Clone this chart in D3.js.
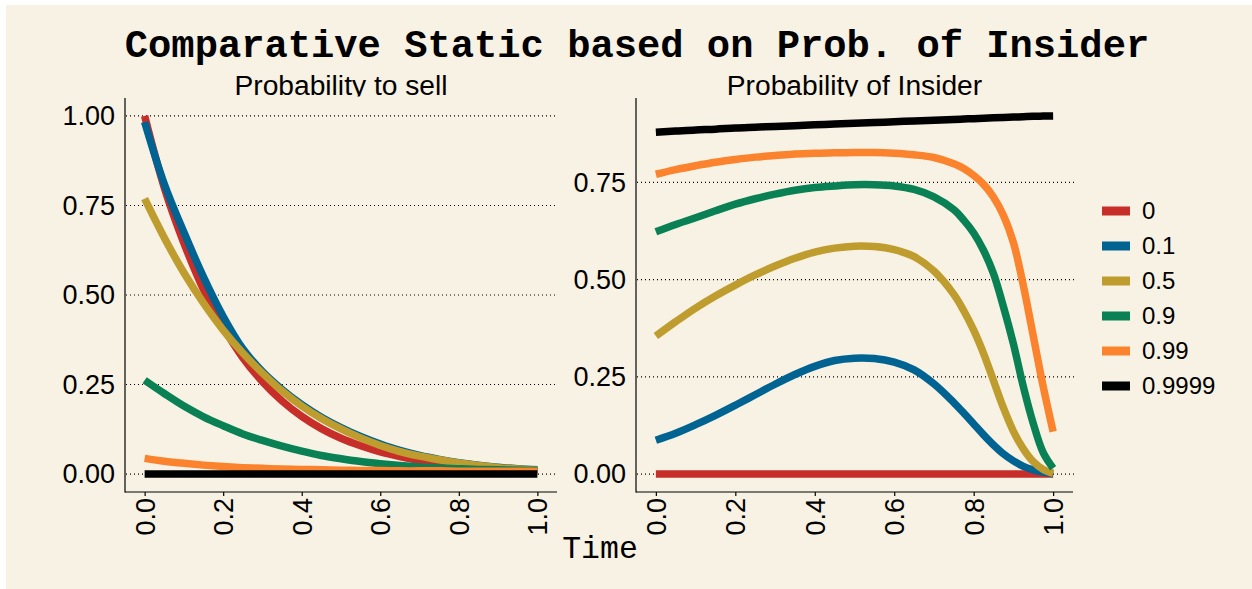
<!DOCTYPE html>
<html>
<head>
<meta charset="utf-8">
<script src="https://cdn.jsdelivr.net/npm/d3@7"></script>
<style>
  html, body { margin: 0; padding: 0; background: #ffffff; }
  svg { display: block; }
</style>
</head>
<body>
<svg id="chart" width="1252" height="589"></svg>
<script>
// ---------------- DATA ----------------
const seriesNames = ["0", "0.1", "0.5", "0.9", "0.99", "0.9999"];
const seriesColors = ["#c72e29", "#016392", "#be9c2e", "#098154", "#fb832d", "#000000"];

// Left panel: Probability to sell
const timeLeft = [0, 0.05, 0.1, 0.15, 0.2, 0.25, 0.3, 0.35, 0.4, 0.45, 0.5, 0.55, 0.6, 0.65, 0.7, 0.75, 0.8, 0.85, 0.9, 0.95, 1.0];
const sell_0      = [1.0, 0.80, 0.645, 0.515, 0.41, 0.325, 0.258, 0.204, 0.161, 0.127, 0.100, 0.079, 0.062, 0.049, 0.038, 0.030, 0.024, 0.019, 0.015, 0.012, 0.010];
const sell_01     = [0.983, 0.81, 0.675, 0.55, 0.44, 0.35, 0.286, 0.236, 0.194, 0.159, 0.130, 0.105, 0.084, 0.066, 0.052, 0.041, 0.032, 0.025, 0.019, 0.015, 0.012];
const sell_05     = [0.769, 0.66, 0.562, 0.477, 0.402, 0.338, 0.282, 0.232, 0.190, 0.155, 0.126, 0.101, 0.080, 0.063, 0.050, 0.040, 0.031, 0.024, 0.018, 0.014, 0.011];
const sell_09     = [0.262, 0.225, 0.19, 0.16, 0.135, 0.112, 0.094, 0.078, 0.064, 0.052, 0.043, 0.035, 0.029, 0.024, 0.020, 0.017, 0.015, 0.013, 0.012, 0.011, 0.010];
const sell_099    = [0.044, 0.036, 0.030, 0.025, 0.021, 0.018, 0.016, 0.014, 0.013, 0.012, 0.011, 0.010, 0.010, 0.009, 0.009, 0.009, 0.008, 0.008, 0.008, 0.008, 0.008];
const sell_09999  = [0, 0, 0, 0, 0, 0, 0, 0, 0, 0, 0, 0, 0, 0, 0, 0, 0, 0, 0, 0, 0];

// Right panel: Probability of Insider
const timeRight = [0, 0.05, 0.1, 0.15, 0.2, 0.25, 0.3, 0.35, 0.4, 0.45, 0.5, 0.55, 0.6, 0.65, 0.7, 0.75, 0.775, 0.8, 0.825, 0.85, 0.875, 0.9, 0.925, 0.95, 0.975, 1.0];
const ins_0     = [0, 0, 0, 0, 0, 0, 0, 0, 0, 0, 0, 0, 0, 0, 0, 0, 0, 0, 0, 0, 0, 0, 0, 0, 0, 0];
const ins_01    = [0.087, 0.105, 0.127, 0.151, 0.177, 0.204, 0.231, 0.256, 0.277, 0.292, 0.298, 0.297, 0.288, 0.268, 0.232, 0.184, 0.157, 0.129, 0.101, 0.075, 0.052, 0.034, 0.020, 0.011, 0.005, 0.001];
const ins_05    = [0.355, 0.392, 0.427, 0.458, 0.486, 0.512, 0.535, 0.555, 0.571, 0.581, 0.586, 0.585, 0.577, 0.559, 0.522, 0.462, 0.420, 0.370, 0.310, 0.240, 0.170, 0.110, 0.065, 0.032, 0.012, 0.002];
const ins_09    = [0.623, 0.642, 0.659, 0.677, 0.694, 0.708, 0.720, 0.730, 0.737, 0.741, 0.744, 0.744, 0.741, 0.732, 0.713, 0.680, 0.653, 0.620, 0.575, 0.515, 0.430, 0.335, 0.225, 0.130, 0.055, 0.015];
const ins_099   = [0.771, 0.783, 0.793, 0.802, 0.809, 0.815, 0.819, 0.823, 0.825, 0.826, 0.827, 0.827, 0.825, 0.821, 0.814, 0.798, 0.786, 0.768, 0.745, 0.712, 0.665, 0.595, 0.485, 0.355, 0.225, 0.109];
const ins_09999 = [0.879, 0.882, 0.885, 0.887, 0.890, 0.892, 0.894, 0.896, 0.898, 0.900, 0.902, 0.904, 0.906, 0.908, 0.910, 0.912, 0.913, 0.914, 0.915, 0.916, 0.917, 0.918, 0.919, 0.920, 0.9205, 0.921];

const xTicks = [0, 0.2, 0.4, 0.6, 0.8, 1.0];
const yTicksLeft = [0, 0.25, 0.5, 0.75, 1.0];
const yTicksRight = [0, 0.25, 0.5, 0.75];

const titleText = "Comparative Static based on Prob. of Insider";
const leftTitle = "Probability to sell";
const rightTitle = "Probability of Insider";
const xLabel = "Time";

// ---------------- DRAW ----------------
const svg = d3.select("#chart");
const SANS = "'Liberation Sans', Arial, Helvetica, sans-serif";
const MONO = "'Liberation Mono', 'Courier New', monospace";

svg.append("rect").attr("x", 6).attr("y", 5).attr("width", 1246).attr("height", 584).attr("fill", "#f8f2e4");

// main title
svg.append("text").attr("x", 637).attr("y", 57).attr("text-anchor", "middle")
  .attr("font-family", MONO).attr("font-weight", "bold").attr("font-size", 38.8)
  .attr("fill", "#000").text(titleText);

function expand(ext, f) {
  const r = ext[1] - ext[0];
  return [ext[0] - r * f, ext[1] + r * f];
}

const panelTop = 98, panelBottom = 492;
const defs = svg.append("defs");
defs.append("clipPath").attr("id", "subclip").append("rect")
  .attr("x", 0).attr("y", 0).attr("width", 1252).attr("height", 96.5);

function drawPanel(opts) {
  const { x0, x1, time, series, yTicks, title } = opts;
  const allVals = series.flat();
  const x = d3.scaleLinear().domain(expand(d3.extent(time), 0.05)).range([x0, x1]);
  const y = d3.scaleLinear().domain(expand(d3.extent(allVals), 0.05)).range([panelBottom, panelTop]);
  const g = svg.append("g");

  // subtitle
  g.append("text").attr("x", (x0 + x1) / 2).attr("y", 95).attr("text-anchor", "middle")
    .attr("clip-path", "url(#subclip)")
    .attr("font-family", SANS).attr("font-size", 28.2).attr("fill", "#000").text(title);

  // gridlines
  g.selectAll("line.grid").data(yTicks).join("line")
    .attr("x1", x0 + 1).attr("x2", x1 + 1)
    .attr("y1", d => y(d)).attr("y2", d => y(d))
    .attr("stroke", "#000").attr("stroke-width", 1.1).attr("stroke-dasharray", "1,3");

  // y axis
  const yAxis = d3.axisLeft(y).tickValues(yTicks).tickFormat(d3.format(".2f")).tickSize(0).tickPadding(10);
  const ya = g.append("g").attr("transform", `translate(${x0},0)`).call(yAxis);
  ya.select(".domain").remove();
  ya.selectAll("text").attr("font-family", SANS).attr("font-size", 27).attr("fill", "#000");
  g.append("line").attr("x1", x0).attr("x2", x0).attr("y1", panelTop).attr("y2", panelBottom + 0.5)
    .attr("stroke", "#000").attr("stroke-width", 1.2);

  // x axis
  const xAxis = d3.axisBottom(x).tickValues(xTicks).tickFormat(d3.format(".1f")).tickSize(4).tickPadding(0);
  const xa = g.append("g").attr("transform", `translate(0,${panelBottom})`).call(xAxis);
  xa.select(".domain").remove();
  xa.selectAll(".tick line").attr("stroke", "#000").attr("stroke-width", 1.2);
  xa.selectAll("text")
    .attr("font-family", SANS).attr("font-size", 27).attr("fill", "#000")
    .attr("text-anchor", "end").attr("dy", "0.35em").attr("y", 0).attr("x", 0)
    .attr("transform", "translate(0,6) rotate(-90)");
  g.append("line").attr("x1", x0).attr("x2", x1).attr("y1", panelBottom).attr("y2", panelBottom)
    .attr("stroke", "#000").attr("stroke-width", 1.2);

  // lines
  const line = d3.line().x((d, i) => x(time[i])).y(d => y(d)).curve(d3.curveCatmullRom.alpha(0.5));
  series.forEach((s, k) => {
    g.append("path").attr("d", line(s)).attr("fill", "none")
      .attr("stroke", seriesColors[k]).attr("stroke-width", 7.5).attr("stroke-linecap", "butt")
      .attr("stroke-linejoin", "round");
  });
}

drawPanel({ x0: 125, x1: 557, time: timeLeft, title: leftTitle, yTicks: yTicksLeft,
  series: [sell_0, sell_01, sell_05, sell_09, sell_099, sell_09999] });
drawPanel({ x0: 636, x1: 1073, time: timeRight, title: rightTitle, yTicks: yTicksRight,
  series: [ins_0, ins_01, ins_05, ins_09, ins_099, ins_09999] });

// x label
svg.append("text").attr("x", 600).attr("y", 558).attr("text-anchor", "middle")
  .attr("font-family", MONO).attr("font-size", 31.5).attr("fill", "#000").text(xLabel);

// legend
const legend = svg.append("g");
seriesNames.forEach((name, i) => {
  const cy = 211 + i * 35;
  legend.append("rect").attr("x", 1102).attr("y", cy - 4.5).attr("width", 28).attr("height", 9)
    .attr("fill", seriesColors[i]);
  legend.append("text").attr("x", 1142).attr("y", cy).attr("dy", "0.35em")
    .attr("font-family", SANS).attr("font-size", 24).attr("fill", "#000").text(name);
});
</script>
</body>
</html>
